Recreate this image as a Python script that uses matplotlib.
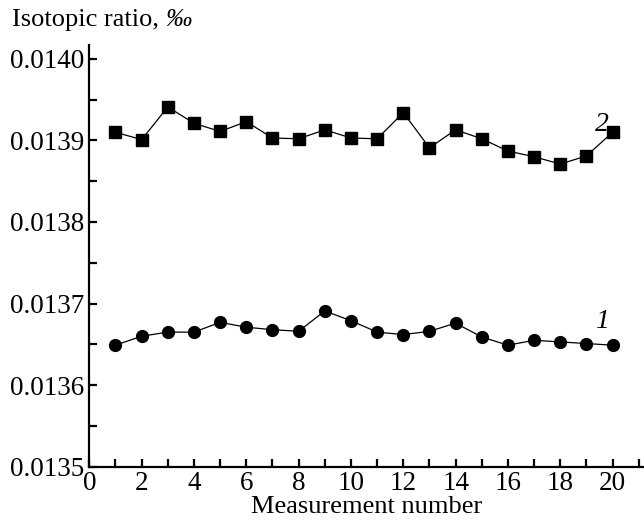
import matplotlib
matplotlib.use("Agg")
import matplotlib.pyplot as plt
from matplotlib.ticker import MultipleLocator, FixedLocator

plt.rcParams['font.family'] = ['Liberation Serif', 'DejaVu Serif']

measurement = list(range(1, 21))
series1 = [0.013649, 0.013660, 0.013665, 0.013665, 0.013677, 0.013671, 0.013668, 0.013666,
           0.013691, 0.013679, 0.013665, 0.013662, 0.013666, 0.013676, 0.013659, 0.013649,
           0.013655, 0.013653, 0.013651, 0.013649]
series2 = [0.013910, 0.013901, 0.013941, 0.013921, 0.013911, 0.013923, 0.013903, 0.013902,
           0.013913, 0.013903, 0.013902, 0.013934, 0.013891, 0.013913, 0.013902, 0.013887,
           0.013880, 0.013871, 0.013881, 0.013910]
series_labels = ["1", "2"]
x_ticklabels = ["0", "2", "4", "6", "8", "10", "12", "14", "16", "18", "20"]
y_ticklabels = ["0.0135", "0.0136", "0.0137", "0.0138", "0.0139", "0.0140"]

fig = plt.figure(figsize=(6.44, 5.23), dpi=100)
ax = fig.add_axes([0.1387, 0.1076, 0.8613, 0.8064])

ax.plot(measurement, series1, color='black', lw=0.9, marker='o', ms=8.5)
ax.plot(measurement, series2, color='black', lw=0.9, marker='s', ms=8.5)

ax.text(19.6, 0.013678, series_labels[0], fontsize=20, style='italic', ha='center', va='center')
ax.text(19.6, 0.013919, series_labels[1], fontsize=20, style='italic', ha='center', va='center')

ax.set_xlim(0, 21.2)
ax.set_ylim(0.0135, 0.014017)

ax.spines['top'].set_visible(False)
ax.spines['right'].set_visible(False)
for s in ['left', 'bottom']:
    ax.spines[s].set_linewidth(1.6)

ax.xaxis.set_major_locator(FixedLocator(list(range(0, 21, 2))))
ax.set_xticklabels(x_ticklabels)
ax.xaxis.set_minor_locator(MultipleLocator(1))
ax.yaxis.set_major_locator(FixedLocator([0.0135, 0.0136, 0.0137, 0.0138, 0.0139, 0.0140]))
ax.set_yticklabels(y_ticklabels)
ax.yaxis.set_minor_locator(MultipleLocator(0.00005))

ax.tick_params(which='both', direction='in', width=1.6, length=6, labelsize=19.5)
ax.tick_params(axis='x', which='both', pad=3)
ax.tick_params(axis='y', which='both', pad=4)

ax.set_xlabel("Measurement number", fontsize=19, labelpad=0)

t1 = fig.text(0.018, 0.962, "Isotopic ratio, ", fontsize=19, ha='left', va='center')
fig.canvas.draw()
bb = t1.get_window_extent(renderer=fig.canvas.get_renderer())
x_end = bb.x1 / fig.bbox.width
fig.text(x_end, 0.962, "‰", fontsize=19, style='italic', ha='left', va='center')

fig.savefig("out.png", dpi=100)
